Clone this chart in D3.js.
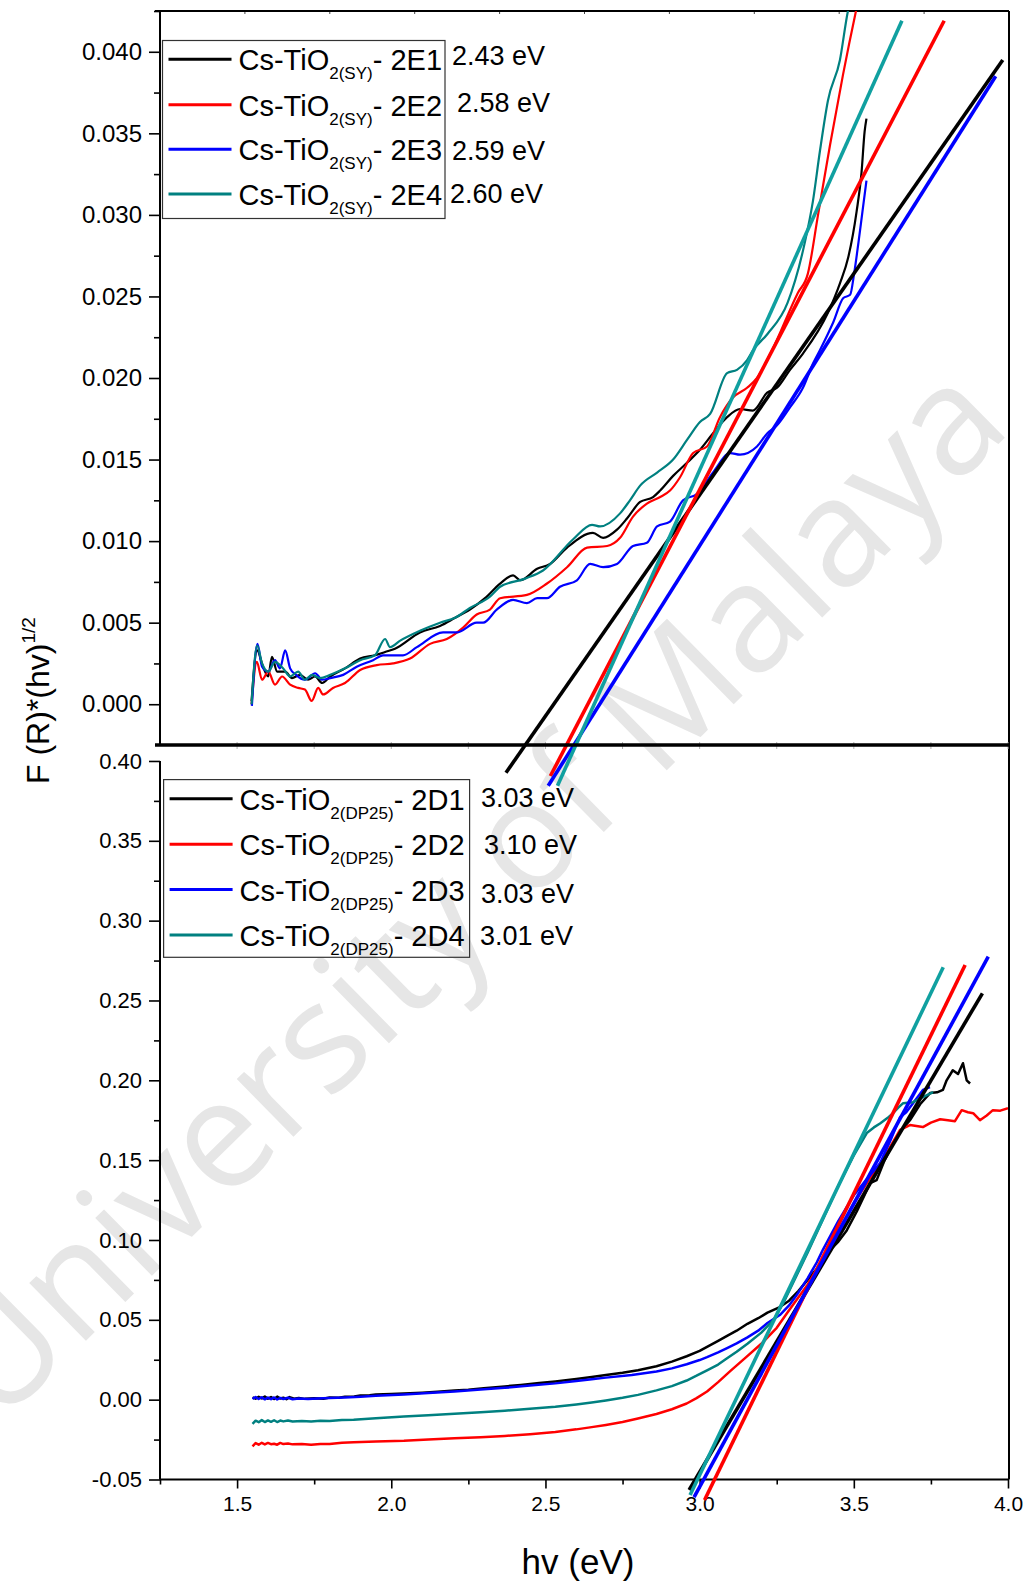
<!DOCTYPE html>
<html>
<head>
<meta charset="utf-8">
<script src="https://cdn.jsdelivr.net/npm/d3@7"></script>
<style>
  body { margin: 0; background: #fff; }
  svg { display: block; }
  text { font-family: "Liberation Sans", Arial, sans-serif; fill: #000; }
</style>
</head>
<body>
<svg id="chart" width="1031" height="1584"></svg>
<script>
// ---------- data: Kubelka-Munk Tauc plots, [hv (eV), F(R)*(hv)^1/2] ----------
// Cs-TiO2(SY) series (upper panel)
const sy2E1 = [[1.547,0.0002],[1.565,0.0033],[1.584,0.0023],[1.601,0.0017],[1.613,0.0029],[1.630,0.0020],[1.656,0.0020],[1.678,0.0016],[1.704,0.0018],[1.730,0.0015],[1.753,0.0017],[1.776,0.0013],[1.802,0.0017],[1.850,0.0022],[1.899,0.0028],[1.947,0.0030],[1.980,0.0032],[2.012,0.0034],[2.093,0.0044],[2.158,0.0048],[2.207,0.0053],[2.255,0.0058],[2.304,0.0065],[2.353,0.0074],[2.395,0.0079],[2.418,0.0076],[2.473,0.0083],[2.515,0.0086],[2.570,0.0096],[2.654,0.0105],[2.687,0.0102],[2.732,0.0107],[2.765,0.0114],[2.807,0.0124],[2.849,0.0127],[2.872,0.0131],[2.914,0.0140],[2.959,0.0148],[3.001,0.0156],[3.043,0.0166],[3.089,0.0176],[3.131,0.0181],[3.173,0.0180],[3.219,0.0191],[3.251,0.0194],[3.293,0.0205],[3.335,0.0215],[3.416,0.0240],[3.455,0.0258],[3.482,0.0274],[3.509,0.0302],[3.525,0.0326],[3.535,0.0351],[3.541,0.0359]];
const sy2E2 = [[1.547,0.0000],[1.564,0.0026],[1.581,0.0015],[1.601,0.0020],[1.623,0.0012],[1.646,0.0017],[1.672,0.0012],[1.698,0.0010],[1.720,0.0009],[1.742,0.0002],[1.763,0.0010],[1.779,0.0006],[1.811,0.0010],[1.850,0.0013],[1.899,0.0021],[1.953,0.0024],[2.006,0.0025],[2.061,0.0028],[2.126,0.0037],[2.180,0.0040],[2.233,0.0047],[2.277,0.0055],[2.320,0.0058],[2.353,0.0065],[2.440,0.0067],[2.505,0.0074],[2.570,0.0084],[2.635,0.0096],[2.700,0.0097],[2.742,0.0102],[2.784,0.0115],[2.829,0.0123],[2.872,0.0127],[2.904,0.0131],[2.936,0.0139],[2.979,0.0154],[3.024,0.0158],[3.066,0.0176],[3.108,0.0188],[3.154,0.0194],[3.186,0.0200],[3.219,0.0211],[3.235,0.0217],[3.318,0.0252],[3.351,0.0264],[3.384,0.0300],[3.423,0.0343],[3.465,0.0386],[3.507,0.0425],[3.515,0.0432]];
const sy2E3 = [[1.548,-0.0001],[1.566,0.0037],[1.581,0.0023],[1.601,0.0020],[1.623,0.0027],[1.639,0.0022],[1.656,0.0033],[1.672,0.0022],[1.691,0.0018],[1.720,0.0015],[1.753,0.0019],[1.776,0.0015],[1.802,0.0016],[1.844,0.0018],[1.888,0.0023],[1.941,0.0027],[1.973,0.0030],[2.038,0.0030],[2.083,0.0035],[2.168,0.0044],[2.212,0.0044],[2.277,0.0050],[2.298,0.0050],[2.342,0.0058],[2.395,0.0064],[2.440,0.0062],[2.473,0.0065],[2.505,0.0065],[2.547,0.0072],[2.602,0.0076],[2.645,0.0086],[2.687,0.0084],[2.732,0.0086],[2.784,0.0097],[2.829,0.0099],[2.862,0.0109],[2.904,0.0112],[2.946,0.0125],[2.992,0.0129],[3.043,0.0142],[3.099,0.0154],[3.131,0.0153],[3.186,0.0158],[3.219,0.0166],[3.251,0.0171],[3.293,0.0182],[3.335,0.0194],[3.368,0.0209],[3.390,0.0217],[3.433,0.0234],[3.466,0.0249],[3.488,0.0251],[3.501,0.0264],[3.515,0.0283],[3.528,0.0302],[3.541,0.0321]];
const sy2E4 = [[1.547,0.0000],[1.565,0.0036],[1.581,0.0025],[1.601,0.0020],[1.623,0.0026],[1.649,0.0022],[1.672,0.0017],[1.698,0.0020],[1.720,0.0015],[1.743,0.0018],[1.769,0.0016],[1.802,0.0018],[1.850,0.0022],[1.899,0.0027],[1.947,0.0030],[1.980,0.0040],[1.996,0.0035],[2.029,0.0039],[2.093,0.0045],[2.158,0.0050],[2.207,0.0053],[2.255,0.0059],[2.320,0.0066],[2.353,0.0072],[2.434,0.0077],[2.492,0.0082],[2.589,0.0101],[2.651,0.0110],[2.677,0.0109],[2.742,0.0117],[2.774,0.0125],[2.807,0.0134],[2.862,0.0142],[2.914,0.0150],[2.959,0.0162],[3.001,0.0173],[3.034,0.0178],[3.089,0.0203],[3.121,0.0205],[3.154,0.0211],[3.173,0.0217],[3.220,0.0227],[3.285,0.0246],[3.341,0.0283],[3.367,0.0308],[3.390,0.0339],[3.416,0.0370],[3.455,0.0395],[3.481,0.0425],[3.490,0.0432]];

// Cs-TiO2(DP25) series (lower panel)
const dp2D1 = [[1.550,0.0015],[1.560,0.0006],[1.570,0.0018],[1.580,0.0008],[1.590,0.0020],[1.600,0.0006],[1.610,0.0016],[1.620,0.0004],[1.630,0.0019],[1.640,0.0007],[1.650,0.0012],[1.660,0.0003],[1.670,0.0016],[1.685,0.0006],[1.700,0.0011],[1.720,0.0005],[1.750,0.0009],[1.780,0.0006],[1.800,0.0013],[1.830,0.0012],[1.850,0.0019],[1.880,0.0020],[1.900,0.0026],[1.930,0.0027],[1.950,0.0032],[2.000,0.0035],[2.041,0.0039],[2.100,0.0044],[2.150,0.0050],[2.205,0.0057],[2.250,0.0062],[2.300,0.0072],[2.368,0.0083],[2.420,0.0092],[2.480,0.0104],[2.532,0.0114],[2.600,0.0130],[2.650,0.0142],[2.696,0.0154],[2.750,0.0168],[2.800,0.0184],[2.860,0.0209],[2.910,0.0238],[2.958,0.0272],[3.000,0.0305],[3.024,0.0330],[3.060,0.0368],[3.089,0.0400],[3.120,0.0432],[3.155,0.0475],[3.190,0.0510],[3.220,0.0545],[3.260,0.0580],[3.290,0.0620],[3.320,0.0680],[3.350,0.0750],[3.380,0.0820],[3.400,0.0880],[3.430,0.0950],[3.450,0.0990],[3.477,0.1060],[3.510,0.1180],[3.553,0.1356],[3.574,0.1375],[3.600,0.1500],[3.627,0.1606],[3.655,0.1690],[3.682,0.1750],[3.715,0.1850],[3.747,0.1920],[3.770,0.1925],[3.789,0.1940],[3.801,0.2000],[3.821,0.2063],[3.838,0.2040],[3.854,0.2107],[3.866,0.2000],[3.877,0.1980]];
const dp2D2 = [[1.550,-0.0292],[1.560,-0.0272],[1.570,-0.0282],[1.580,-0.0270],[1.590,-0.0280],[1.600,-0.0271],[1.610,-0.0279],[1.620,-0.0276],[1.630,-0.0282],[1.640,-0.0271],[1.650,-0.0278],[1.665,-0.0274],[1.680,-0.0280],[1.710,-0.0277],[1.740,-0.0283],[1.770,-0.0278],[1.800,-0.0277],[1.840,-0.0270],[1.878,-0.0266],[1.950,-0.0262],[2.041,-0.0258],[2.120,-0.0250],[2.205,-0.0241],[2.290,-0.0235],[2.368,-0.0227],[2.450,-0.0216],[2.532,-0.0202],[2.600,-0.0186],[2.650,-0.0172],[2.696,-0.0158],[2.750,-0.0140],[2.800,-0.0118],[2.860,-0.0090],[2.910,-0.0060],[2.958,-0.0024],[2.990,0.0010],[3.024,0.0051],[3.060,0.0110],[3.100,0.0180],[3.150,0.0265],[3.200,0.0350],[3.250,0.0450],[3.290,0.0560],[3.350,0.0720],[3.400,0.0880],[3.450,0.1050],[3.500,0.1230],[3.550,0.1380],[3.600,0.1520],[3.617,0.1580],[3.650,0.1690],[3.682,0.1720],[3.724,0.1707],[3.750,0.1735],[3.780,0.1756],[3.805,0.1750],[3.828,0.1744],[3.850,0.1813],[3.870,0.1800],[3.887,0.1794],[3.909,0.1750],[3.931,0.1780],[3.951,0.1813],[3.975,0.1810],[4.000,0.1825]];
const dp2D3 = [[1.550,0.0005],[1.560,0.0016],[1.570,0.0004],[1.580,0.0015],[1.590,0.0002],[1.600,0.0013],[1.610,0.0003],[1.620,0.0014],[1.630,0.0001],[1.640,0.0011],[1.650,0.0004],[1.665,0.0012],[1.680,0.0003],[1.700,0.0008],[1.730,0.0004],[1.760,0.0007],[1.800,0.0010],[1.850,0.0014],[1.900,0.0019],[1.950,0.0024],[2.041,0.0032],[2.120,0.0041],[2.205,0.0051],[2.290,0.0063],[2.368,0.0074],[2.450,0.0088],[2.532,0.0102],[2.600,0.0117],[2.650,0.0128],[2.696,0.0138],[2.780,0.0155],[2.860,0.0177],[2.910,0.0196],[2.958,0.0222],[3.000,0.0248],[3.024,0.0266],[3.060,0.0296],[3.089,0.0323],[3.120,0.0352],[3.155,0.0390],[3.190,0.0432],[3.220,0.0480],[3.260,0.0530],[3.290,0.0590],[3.320,0.0670],[3.350,0.0760],[3.380,0.0860],[3.400,0.0940],[3.450,0.1120],[3.500,0.1280],[3.550,0.1400],[3.585,0.1480],[3.620,0.1630],[3.650,0.1769],[3.670,0.1800],[3.692,0.1857],[3.724,0.1940],[3.747,0.1957]];
const dp2D4 = [[1.550,-0.0152],[1.560,-0.0132],[1.570,-0.0141],[1.580,-0.0128],[1.590,-0.0140],[1.600,-0.0130],[1.610,-0.0139],[1.620,-0.0129],[1.630,-0.0140],[1.640,-0.0131],[1.650,-0.0136],[1.665,-0.0130],[1.680,-0.0137],[1.710,-0.0133],[1.740,-0.0136],[1.770,-0.0132],[1.800,-0.0133],[1.840,-0.0128],[1.878,-0.0126],[1.950,-0.0117],[2.041,-0.0106],[2.120,-0.0097],[2.205,-0.0088],[2.290,-0.0079],[2.368,-0.0069],[2.450,-0.0057],[2.532,-0.0044],[2.600,-0.0030],[2.650,-0.0018],[2.696,-0.0005],[2.750,0.0012],[2.800,0.0030],[2.860,0.0058],[2.910,0.0085],[2.958,0.0120],[2.990,0.0150],[3.024,0.0184],[3.060,0.0220],[3.089,0.0259],[3.120,0.0300],[3.155,0.0350],[3.200,0.0420],[3.240,0.0500],[3.270,0.0600],[3.300,0.0720],[3.350,0.0920],[3.400,0.1130],[3.450,0.1340],[3.500,0.1530],[3.542,0.1670],[3.565,0.1705],[3.585,0.1730],[3.610,0.1765],[3.627,0.1795],[3.645,0.1830],[3.660,0.1857],[3.692,0.1863],[3.724,0.1894],[3.757,0.1926]];

// linear band-gap extrapolations, [start, end] in data units
const fitSY2E1 = [[2.372,-0.0042],[3.983,0.0395]];
const fitSY2E2 = [[2.516,-0.0044],[3.793,0.0419]];
const fitSY2E3 = [[2.509,-0.0050],[3.960,0.0385]];
const fitSY2E4 = [[2.539,-0.0050],[3.656,0.0419]];
const fitDP2D1 = [[2.966,-0.0566],[3.917,0.2545]];
const fitDP2D2 = [[3.016,-0.0628],[3.861,0.2722]];
const fitDP2D3 = [[2.982,-0.0610],[3.936,0.2774]];
const fitDP2D4 = [[2.969,-0.0597],[3.790,0.2708]];

// legend entries and band-gap labels
const sampleSY = ["2E1", "2E2", "2E3", "2E4"];
const gapSY = ["2.43 eV", "2.58 eV", "2.59 eV", "2.60 eV"];
const sampleDP = ["2D1", "2D2", "2D3", "2D4"];
const gapDP = ["3.03 eV", "3.10 eV", "3.03 eV", "3.01 eV"];

// axis ticks
const xTickValues = [1.5, 2.0, 2.5, 3.0, 3.5, 4.0];
const yTopTicks = [0.000, 0.005, 0.010, 0.015, 0.020, 0.025, 0.030, 0.035, 0.040];
const yBotTicks = [-0.05, 0.00, 0.05, 0.10, 0.15, 0.20, 0.25, 0.30, 0.35, 0.40];

// ---------- layout ----------
const curveColors = ["#000000", "#ff0000", "#0000ff", "#008080"];
const fitColors = ["#000000", "#ff0000", "#0000ff", "#10a0a0"];

const svg = d3.select("#chart");
const L = 160, R = 1008, T = 11, MID = 745, B = 1479.5;

const x = d3.scaleLinear().domain([1.25, 4.0]).range([L, R]);
const yTop = d3.scaleLinear().domain([-0.0025, 0.0425]).range([MID, T]);
const yBot = d3.scaleLinear().domain([-0.05, 0.41]).range([B, MID]);

// watermark behind everything
svg.append("text")
  .attr("transform", "translate(506,928) rotate(-44.5)")
  .attr("text-anchor", "middle")
  .style("font-family", "'Open Sans', 'Noto Sans', sans-serif")
  .style("font-size", "151px")
  .style("fill", "#e6e6e6")
  .text("University of Malaya");

const defs = svg.append("defs");
defs.append("clipPath").attr("id", "clipTop")
  .append("rect").attr("x", L).attr("y", T).attr("width", R - L).attr("height", MID - T);
defs.append("clipPath").attr("id", "clipBot")
  .append("rect").attr("x", L).attr("y", MID).attr("width", R - L).attr("height", B - MID);

// ---------- frames and axes ----------
// top border ticks of the upper layer
const topFrameTicks = d3.scaleLinear().domain([0, 10]).range([L, R + 1]);
svg.append("g").selectAll("line").data(d3.range(1, 10)).join("line")
  .attr("x1", d => topFrameTicks(d)).attr("x2", d => topFrameTicks(d))
  .attr("y1", T).attr("y2", T + 3)
  .attr("stroke", "#444").attr("stroke-width", 1);

svg.append("line").attr("x1", L - 5).attr("x2", R + 1).attr("y1", T).attr("y2", T)
  .attr("stroke", "#000").attr("stroke-width", 2);
svg.append("line").attr("x1", R + 1).attr("x2", R + 1).attr("y1", T).attr("y2", B)
  .attr("stroke", "#000").attr("stroke-width", 2);

// upper y axis
const gTopY = svg.append("g").attr("transform", `translate(${L},0)`)
  .call(d3.axisLeft(yTop).tickValues(yTopTicks).tickFormat(d3.format(".3f")).tickSize(11).tickPadding(7));
const gTopYMinor = svg.append("g").attr("transform", `translate(${L},0)`)
  .call(d3.axisLeft(yTop).tickValues(d3.range(0.0025, 0.0426, 0.005)).tickFormat("").tickSize(6));

// lower y axis
const gBotY = svg.append("g").attr("transform", `translate(${L},0)`)
  .call(d3.axisLeft(yBot).tickValues(yBotTicks).tickFormat(d3.format(".2f")).tickSize(11).tickPadding(7));
const gBotYMinor = svg.append("g").attr("transform", `translate(${L},0)`)
  .call(d3.axisLeft(yBot).tickValues(d3.range(-0.025, 0.40, 0.05)).tickFormat("").tickSize(6));

// bottom x axis
const gX = svg.append("g").attr("transform", `translate(0,${B})`)
  .call(d3.axisBottom(x).tickValues(xTickValues).tickFormat(d3.format(".1f")).tickSize(9).tickPadding(8));
const gXMinor = svg.append("g").attr("transform", `translate(0,${B})`)
  .call(d3.axisBottom(x).tickValues([1.25, 1.75, 2.25, 2.75, 3.25, 3.75]).tickFormat("").tickSize(5));

[gTopY, gTopYMinor, gBotY, gBotYMinor, gX, gXMinor].forEach(g => {
  g.select(".domain").remove();
  g.selectAll(".tick line").attr("stroke", "#000").attr("stroke-width", 1.6);
  g.selectAll(".tick text").attr("fill", "#000")
    .style("font-family", "'Liberation Sans', Arial, sans-serif");
});
gTopY.selectAll(".tick text").style("font-size", "24px");
gBotY.selectAll(".tick text").style("font-size", "22px")
  .text(d => d3.format(".2f")(d).replace("−", "-"));
gX.selectAll(".tick text").style("font-size", "21px");

// spines
svg.append("line").attr("x1", L).attr("x2", L).attr("y1", T).attr("y2", MID)
  .attr("stroke", "#000").attr("stroke-width", 2);
svg.append("line").attr("x1", L).attr("x2", L).attr("y1", yBot(0.40)).attr("y2", B)
  .attr("stroke", "#000").attr("stroke-width", 2);
svg.append("line").attr("x1", L).attr("x2", R + 1).attr("y1", B).attr("y2", B)
  .attr("stroke", "#000").attr("stroke-width", 2);

// faint ticks along the panel divider
svg.append("g").selectAll("line").data(d3.range(1.5, 4.01, 0.25)).join("line")
  .attr("x1", d => x(d)).attr("x2", d => x(d))
  .attr("y1", MID - 3).attr("y2", MID + 4)
  .attr("stroke", "#b0b0b0").attr("stroke-width", 1);

// ---------- curves ----------
const lineTop = d3.line().x(d => x(d[0])).y(d => yTop(d[1])).curve(d3.curveMonotoneX);
const lineBot = d3.line().x(d => x(d[0])).y(d => yBot(d[1])).curve(d3.curveLinear);
const lineTopFit = d3.line().x(d => x(d[0])).y(d => yTop(d[1]));
const lineBotFit = d3.line().x(d => x(d[0])).y(d => yBot(d[1]));

const seriesSY = [sy2E1, sy2E2, sy2E3, sy2E4];
const seriesDP = [dp2D1, dp2D2, dp2D3, dp2D4];
const fitsSY = [fitSY2E1, fitSY2E2, fitSY2E3, fitSY2E4];
const fitsDP = [fitDP2D1, fitDP2D2, fitDP2D3, fitDP2D4];

svg.append("g").attr("clip-path", "url(#clipTop)")
  .selectAll("path").data(seriesSY).join("path")
  .attr("d", lineTop).attr("fill", "none")
  .attr("stroke", (d, i) => curveColors[i]).attr("stroke-width", 2.2)
  .attr("stroke-linejoin", "round");

svg.append("g").attr("clip-path", "url(#clipBot)")
  .selectAll("path").data(seriesDP).join("path")
  .attr("d", lineBot).attr("fill", "none")
  .attr("stroke", (d, i) => curveColors[i]).attr("stroke-width", 2.5)
  .attr("stroke-linejoin", "round");

svg.append("g").selectAll("path").data(fitsSY).join("path")
  .attr("d", lineTopFit).attr("fill", "none")
  .attr("stroke", (d, i) => fitColors[i]).attr("stroke-width", 3.6);

svg.append("g").selectAll("path").data(fitsDP).join("path")
  .attr("d", lineBotFit).attr("fill", "none")
  .attr("stroke", (d, i) => fitColors[i]).attr("stroke-width", 3.6);

// panel divider (drawn over the extrapolation lines)
svg.append("line").attr("x1", L - 5).attr("x2", R + 1).attr("y1", MID).attr("y2", MID)
  .attr("stroke", "#000").attr("stroke-width", 3.5);

// ---------- legends ----------
function legend(box, rowsY, names, tag, gaps, gapX, gapY) {
  const g = svg.append("g");
  g.append("rect").attr("x", box[0]).attr("y", box[1]).attr("width", box[2]).attr("height", box[3])
    .attr("fill", "none").attr("stroke", "#333").attr("stroke-width", 1.2);
  names.forEach((n, i) => {
    const y = rowsY[i];
    g.append("line").attr("x1", box[0] + 6).attr("x2", box[0] + 69).attr("y1", y).attr("y2", y)
      .attr("stroke", curveColors[i]).attr("stroke-width", 3);
    const t = g.append("text").attr("x", box[0] + 76).attr("y", y + 11).style("font-size", "29px");
    t.append("tspan").text("Cs-TiO");
    t.append("tspan").attr("dy", 9).style("font-size", "17px").text(tag);
    t.append("tspan").attr("dy", -9).text("- " + n);
    g.append("text").attr("x", gapX[i]).attr("y", gapY[i]).style("font-size", "27px").text(gaps[i]);
  });
}
legend([162.5, 40.5, 282.5, 178], [59.3, 104.7, 149.3, 194], sampleSY, "2(SY)", gapSY,
  [452, 457, 452, 450], [65, 112, 160, 203]);
legend([163.6, 779.6, 306, 177.7], [798.7, 844.2, 889.6, 935], sampleDP, "2(DP25)", gapDP,
  [481, 484, 481, 480], [807, 854, 903, 945]);

// ---------- axis titles ----------
svg.append("text").attr("x", 578).attr("y", 1574).attr("text-anchor", "middle")
  .style("font-size", "35px").text("hv (eV)");

const yt = svg.append("text").attr("transform", "translate(49,784) rotate(-90)")
  .style("font-size", "32px");
yt.append("tspan").text("F (R)*(hv)");
yt.append("tspan").attr("dy", -14).style("font-size", "19px").text("1/2");
</script>
</body>
</html>
